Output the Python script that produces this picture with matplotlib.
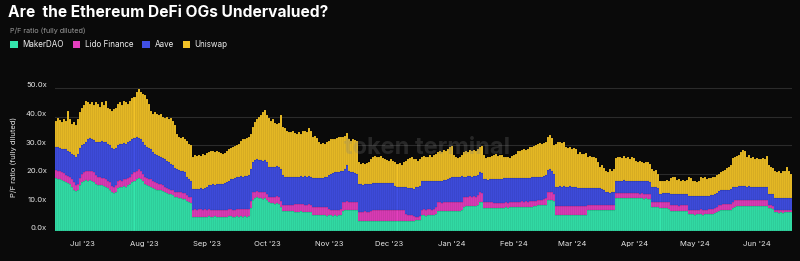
import pandas as pd
import matplotlib
matplotlib.use("Agg")
import matplotlib.pyplot as plt
import matplotlib.dates as mdates
from matplotlib.patches import Patch
from matplotlib.transforms import ScaledTranslation

plt.rcParams['font.family'] = ['Inter', 'DejaVu Sans']

# daily P/F ratios (fully diluted), 2023-06-18 .. 2024-06-18
start_date = "2023-06-18"

maker = [
    18.4, 18.2, 18.0, 17.8, 17.5, 17.0, 16.7, 16.5, 15.5, 14.5,
    14.0, 14.3, 16.0, 17.0, 17.5, 17.8, 17.5, 17.8, 17.6, 17.2,
    16.5, 16.0, 16.2, 16.0, 15.8, 15.5, 15.0, 14.5, 13.5, 13.2,
    13.8, 15.0, 15.5, 15.3, 15.8, 15.5, 16.0, 16.3, 17.0, 17.5,
    18.0, 18.5, 18.2, 17.5, 16.5, 16.0, 15.8, 15.5, 15.0, 14.8,
    14.5, 14.3, 14.2, 14.0, 13.5, 13.2, 13.0, 12.8, 12.5,
    12.0, 11.8, 11.5, 11.5, 11.3, 11.2, 10.5, 10.0, 9.8, 5.0,
    5.0, 4.9, 5.0, 5.0, 4.9, 5.0, 5.0, 5.1, 5.0, 5.0,
    5.1, 5.0, 5.0, 4.9, 5.0, 5.0, 5.0, 5.1, 5.1, 5.0,
    5.0, 5.1, 5.0, 5.1, 5.0, 5.1, 5.0, 5.1, 8.0, 11.0,
    11.5, 11.8, 11.5, 11.6, 11.3, 11.5, 11.0, 10.0, 9.8, 9.7,
    9.5, 9.8, 9.6, 8.5, 7.0, 7.0, 7.0, 6.9, 7.0, 7.0,
    6.8, 6.8,
    6.8, 6.9, 6.8, 6.8, 6.7, 6.8, 6.7, 5.6, 5.5, 5.5,
    5.5, 5.6, 5.5, 5.5, 5.4, 5.5, 5.5, 5.4, 5.5, 5.4,
    5.5, 5.5, 7.0, 7.3, 7.5, 7.3, 7.3, 7.2, 7.3, 7.2,
    3.5, 3.5, 3.4, 3.5, 3.5, 3.5, 3.5, 3.5, 3.5, 3.4,
    3.5, 3.5, 3.5, 3.5, 3.4, 3.5, 3.5, 3.5, 3.5, 3.4,
    3.5, 3.5, 3.5, 3.5, 3.5, 3.4, 3.5, 3.5, 3.8, 3.8,
    3.8,
    5.5, 5.5, 5.4, 5.5, 5.6, 5.5, 5.6, 6.0, 7.0, 7.0,
    6.9, 7.0, 7.0, 7.1, 7.0, 7.1, 7.0, 7.0, 7.1, 7.0,
    7.2, 8.5, 8.8, 8.7, 8.8, 8.8, 8.9, 8.8, 9.0, 10.3,
    10.0, 8.0, 8.0, 7.9, 8.0, 8.0, 8.0, 8.1, 8.0, 8.2,
    8.1, 8.2, 8.3, 8.2, 8.3, 8.3, 8.4, 8.4, 8.5, 8.3,
    8.4, 8.3, 8.4, 8.3, 8.4, 8.5, 8.6, 8.7, 9.0, 9.0,
    9.0, 9.1, 9.2, 10.8, 11.0, 10.8, 10.5, 5.6, 5.6, 5.5,
    5.6, 5.6, 5.6, 5.5, 5.6, 5.6, 5.5, 5.6, 5.6, 5.6,
    5.5, 5.6, 5.6, 7.3, 7.2, 7.3, 7.3, 7.4, 7.3, 7.3,
    7.2, 7.3, 7.3, 7.3, 7.2, 7.3, 7.3, 11.4, 11.5, 11.4,
    11.5, 11.6, 11.5, 11.5, 11.4, 11.5, 11.5, 11.4, 11.5, 11.4,
    11.5, 11.3, 11.4, 11.3, 11.2, 8.5, 8.5, 8.4, 8.5, 8.0,
    8.0,
    8.0, 8.0, 7.8, 7.0, 7.0, 7.0, 7.0, 6.9, 7.0, 7.0,
    6.9, 7.0, 5.8, 5.8, 5.8, 5.7, 5.8, 5.8, 5.8, 5.7,
    5.8, 5.8, 5.8, 5.9, 6.0, 6.2, 6.5, 7.0, 7.2, 7.3,
    7.3, 7.4, 7.3, 7.5, 8.0, 8.5, 8.6, 8.7, 8.8, 8.9,
    8.8, 8.8, 8.9, 8.8, 8.9, 8.8, 8.9, 8.9, 8.8, 8.9,
    8.8, 8.8, 8.0, 8.0, 7.8, 6.5, 6.5, 6.4, 6.5, 6.4,
    6.5, 6.6, 6.5, 6.5,
]

lido = [
    2.9, 2.8, 2.8, 2.7, 2.7, 2.5, 2.5, 2.5, 2.5, 2.5,
    2.2, 2.2, 2.5, 2.8, 3.0, 3.2, 3.3, 3.2, 3.2, 3.3,
    3.0, 2.8, 2.8, 2.5, 2.7, 2.5, 2.5, 2.5, 2.3, 2.3,
    2.2, 2.5, 2.3, 2.2, 2.2, 2.5, 2.5, 2.7, 3.0, 3.0,
    3.0, 3.0, 2.8, 2.5, 2.5, 2.5, 2.5, 2.5, 2.5, 2.2,
    2.3, 2.2, 2.1, 2.0, 2.0, 1.8, 1.8, 1.7, 1.8,
    1.8, 2.0, 2.0, 2.1, 2.1, 2.0, 2.0, 2.0, 2.0, 2.5,
    2.6, 2.6, 2.7, 2.6, 2.6, 2.6, 2.5, 2.5, 2.5, 2.4,
    2.4, 2.5, 2.4, 2.4, 2.4, 2.5, 2.5, 2.5, 2.5, 2.5,
    2.5, 2.5, 2.6, 2.6, 2.6, 2.6, 2.6, 2.7, 2.5, 2.5,
    2.3, 2.2, 2.3, 2.1, 2.2, 2.1, 2.0, 2.0, 2.2, 2.1,
    2.5, 2.4, 2.4, 2.0, 2.0, 2.0, 2.0, 2.2, 2.0, 2.2,
    2.5, 2.5,
    2.5, 2.5, 2.5, 2.4, 2.5, 2.5, 2.5, 2.9, 3.0, 2.9,
    3.0, 2.9, 2.9, 3.0, 2.9, 2.3, 2.0, 2.1, 1.9, 2.1,
    2.0, 2.1, 3.0, 3.0, 3.0, 3.0, 3.0, 3.0, 3.0, 3.0,
    3.3, 3.3, 3.4, 3.4, 3.3, 3.3, 3.5, 3.8, 3.8, 3.8,
    3.8, 3.9, 3.8, 3.8, 3.9, 3.9, 3.8, 3.8, 3.8, 3.8,
    3.8, 3.8, 3.7, 2.3, 2.0, 2.1, 2.0, 1.9, 1.2, 1.2,
    1.4,
    2.0, 2.1, 2.1, 2.1, 2.1, 2.0, 2.2, 2.5, 3.0, 3.0,
    2.9, 3.0, 3.1, 3.1, 3.0, 3.1, 3.0, 3.0, 3.0, 3.0,
    3.1, 3.3, 3.2, 3.2, 3.3, 3.2, 3.3, 3.2, 3.5, 3.2,
    3.3, 2.0, 2.0, 2.2, 2.0, 2.0, 1.8, 1.7, 1.7, 1.7,
    1.7, 1.6, 1.7, 1.7, 1.7, 1.8, 1.8, 1.8, 1.8, 2.0,
    2.0, 2.0, 2.0, 2.0, 2.0, 2.0, 1.9, 1.9, 2.0, 2.0,
    2.0, 2.0, 2.3, 2.7, 2.8, 2.7, 2.5, 3.2, 3.2, 3.2,
    3.2, 3.3, 3.2, 3.3, 3.2, 3.3, 3.3, 3.2, 3.2, 3.2,
    3.2, 3.2, 3.2, 1.7, 1.8, 1.8, 1.7, 1.8, 1.7, 1.7,
    1.8, 1.8, 1.7, 1.7, 1.8, 1.8, 1.7, 1.8, 1.8, 1.8,
    1.8, 1.8, 1.7, 1.8, 1.8, 1.8, 1.7, 1.8, 1.7, 1.7,
    1.7, 1.7, 1.7, 1.7, 1.8, 1.5, 1.5, 1.6, 1.7, 2.3,
    2.3,
    2.3, 2.2, 2.2, 2.0, 2.0, 2.1, 2.0, 2.0, 2.0, 2.0,
    2.1, 2.0, 1.7, 1.7, 1.7, 1.7, 1.7, 1.7, 1.8, 1.8,
    1.7, 1.7, 1.8, 1.7, 1.8, 1.8, 1.8, 2.0, 2.0, 2.0,
    2.0, 2.0, 2.0, 2.0, 2.3, 2.3, 2.2, 2.2, 2.2, 2.1,
    2.1, 2.0, 2.0, 2.0, 2.0, 2.0, 2.0, 1.9, 2.0, 2.0,
    2.0, 2.0, 1.0, 1.0, 1.1, 1.0, 0.8, 0.8, 0.8, 0.8,
    0.8, 0.8, 0.8, 0.7,
]

aave = [
    8.2, 8.3, 8.2, 8.3, 8.3, 9.0, 8.8, 8.5, 9.0, 9.5,
    9.8, 10.5, 10.5, 10.2, 10.0, 10.0, 11.2, 11.5, 11.5, 11.3,
    11.5, 12.4, 12.0, 13.0, 12.5, 13.2, 13.0, 13.0, 13.2, 13.0,
    13.0, 12.5, 12.7, 12.8, 12.8, 12.5, 12.5, 12.5, 12.0, 12.0,
    11.8, 11.0, 11.0, 11.0, 11.0, 11.0, 10.7, 10.5, 10.0, 10.0,
    9.7, 9.8, 9.7, 9.5, 9.5, 9.5, 9.2, 9.0, 8.7,
    8.2, 7.7, 7.7, 7.4, 7.6, 7.3, 6.5, 6.0, 5.7, 7.3,
    7.2, 7.2, 7.1, 7.3, 7.3, 7.4, 8.0, 8.4, 8.7, 8.9,
    8.7, 8.8, 8.9, 9.1, 9.1, 9.1, 9.5, 9.9, 10.4, 10.8,
    11.0, 11.2, 11.4, 11.5, 11.4, 11.6, 11.6, 11.7, 11.0, 10.5,
    11.0, 11.0, 11.0, 11.2, 11.0, 11.2, 11.0, 10.5, 10.5, 10.5,
    10.5, 10.6, 10.5, 11.0, 10.5, 10.0, 10.0, 9.9, 10.0, 9.8,
    9.7, 9.7,
    9.7, 9.8, 9.7, 9.9, 9.8, 9.9, 9.8, 10.0, 10.0, 10.0,
    10.0, 10.1, 10.1, 10.2, 10.5, 11.7, 12.5, 12.8, 13.1, 13.0,
    13.1, 13.2, 11.0, 11.2, 12.5, 10.7, 10.2, 10.3, 10.0, 9.8,
    9.5, 9.5, 9.4, 9.4, 9.6, 9.5, 9.5, 9.5, 9.4, 9.6,
    9.5, 9.5, 9.5, 9.5, 9.4, 9.4, 9.5, 9.4, 8.5, 8.3,
    8.2, 8.1, 8.3, 9.4, 9.5, 9.4, 9.4, 9.4, 10.5, 10.5,
    10.4,
    10.0, 9.9, 9.9, 9.9, 9.9, 10.0, 9.8, 9.1, 7.5, 7.5,
    7.8, 7.7, 7.7, 7.8, 8.5, 8.8, 9.0, 8.8, 8.9, 9.0,
    8.8, 7.2, 7.0, 7.2, 7.1, 7.0, 7.1, 7.2, 7.0, 7.0,
    7.0, 8.0, 8.0, 7.8, 8.0, 8.1, 8.2, 8.3, 8.3, 8.3,
    8.4, 8.7, 8.5, 8.5, 8.5, 8.5, 8.3, 8.4, 8.2, 8.2,
    8.2, 8.2, 8.2, 8.2, 8.2, 8.2, 8.3, 8.2, 8.0, 8.0,
    8.0, 8.1, 8.0, 7.8, 7.7, 7.5, 7.0, 6.7, 6.7, 6.9,
    6.7, 6.7, 6.7, 6.7, 6.8, 6.6, 6.6, 6.7, 6.2, 6.2,
    6.4, 6.2, 6.2, 6.0, 6.0, 6.0, 6.0, 5.9, 6.0, 6.0,
    5.8, 5.4, 4.5, 4.5, 4.4, 4.4, 4.6, 4.3, 4.3, 4.3,
    4.3, 4.3, 4.3, 4.3, 4.3, 4.2, 4.2, 4.3, 4.3, 4.3,
    4.3, 4.3, 4.3, 4.3, 4.2, 5.5, 5.5, 5.4, 4.8, 2.7,
    2.9,
    2.9, 3.1, 3.2, 4.0, 4.0, 4.0, 4.0, 4.1, 4.0, 3.9,
    4.0, 3.8, 4.8, 4.8, 4.7, 4.9, 4.8, 4.7, 4.7, 4.8,
    4.9, 4.8, 4.8, 4.9, 4.8, 4.8, 4.9, 5.0, 5.0, 5.0,
    5.0, 5.0, 5.2, 5.2, 4.9, 4.7, 4.7, 4.7, 4.8, 4.8,
    4.8, 4.7, 4.7, 4.7, 4.6, 4.6, 4.6, 4.7, 4.6, 4.6,
    4.6, 4.7, 4.0, 4.0, 3.9, 4.2, 4.2, 4.3, 4.2, 4.2,
    4.2, 4.2, 4.2, 4.2,
]

uniswap = [
    9.0, 10.2, 9.8, 9.2, 10.5, 10.0, 14.0, 11.5, 10.5, 11.5,
    11.0, 12.0, 12.5, 13.0, 13.5, 14.5, 13.0, 12.0, 12.7, 12.2,
    14.0, 13.3, 12.5, 13.5, 13.0, 14.3, 12.5, 12.5, 13.0, 14.0,
    14.0, 14.5, 14.5, 13.7, 14.7, 14.5, 13.5, 14.0, 14.5, 14.5,
    15.7, 17.3, 16.5, 17.0, 17.5, 16.5, 15.5, 13.5, 13.5, 14.5,
    14.5, 14.2, 15.0, 14.5, 14.5, 15.5, 15.0, 16.0, 15.5,
    15.0, 12.5, 11.8, 11.5, 12.0, 11.5, 12.5, 12.5, 12.5, 11.2,
    11.7, 11.5, 11.8, 11.4, 12.0, 11.5, 11.8, 11.5, 11.6, 11.7,
    11.4, 11.7, 11.2, 10.9, 10.5, 10.7, 10.8, 11.0, 11.0, 11.2,
    11.3, 11.2, 11.5, 12.3, 13.0, 13.0, 13.3, 13.5, 12.5, 12.5,
    13.2, 14.0, 15.2, 15.6, 17.0, 17.5, 16.5, 17.0, 16.0, 16.7,
    15.1, 14.5, 15.3, 19.0, 17.0, 17.0, 16.0, 15.7, 15.5, 15.8,
    15.4, 15.0,
    15.5, 14.8, 15.8, 15.9, 15.5, 16.7, 16.0, 14.5, 14.8, 14.1,
    12.5, 11.9, 12.3, 11.8, 12.2, 12.0, 12.0, 12.0, 11.5, 12.0,
    12.4, 12.0, 12.0, 11.7, 11.2, 11.0, 11.0, 11.5, 11.5, 11.5,
    7.7, 7.2, 7.6, 7.0, 7.3, 7.7, 8.5, 9.2, 9.5, 9.0,
    9.2, 9.4, 8.7, 8.2, 8.1, 7.7, 8.2, 7.9, 8.2, 8.0,
    8.3, 7.6, 8.5, 9.3, 10.0, 10.6, 10.9, 10.5, 9.5, 9.0,
    9.4,
    8.5, 8.8, 8.4, 8.5, 8.9, 8.5, 8.8, 9.2, 10.0, 10.5,
    9.9, 10.5, 10.2, 10.5, 11.0, 10.8, 7.5, 7.2, 6.5, 7.0,
    7.4, 8.5, 9.0, 8.5, 9.0, 9.0, 9.0, 8.8, 9.0, 9.0,
    9.5, 8.5, 7.5, 8.1, 7.8, 8.2, 8.5, 8.7, 8.3, 8.4,
    8.2, 7.5, 7.3, 7.6, 7.0, 7.6, 8.0, 8.4, 9.3, 9.5,
    9.7, 10.0, 9.6, 10.3, 10.7, 10.8, 11.0, 11.2, 11.5, 11.8,
    11.5, 11.6, 11.5, 11.7, 12.0, 11.5, 10.0, 15.0, 15.5, 15.6,
    15.3, 15.4, 14.0, 13.5, 13.7, 13.0, 13.6, 13.3, 12.0, 12.5,
    11.9, 11.8, 12.2, 11.0, 11.3, 10.7, 11.0, 10.4, 9.0, 7.5,
    8.2, 7.5, 7.5, 7.0, 8.1, 7.3, 7.9, 8.0, 8.4, 8.3,
    7.9, 8.5, 8.1, 8.2, 7.8, 8.2, 8.1, 7.0, 6.5, 6.9,
    6.5, 6.5, 6.8, 6.7, 6.3, 6.0, 5.5, 5.9, 5.0, 4.5,
    4.3,
    4.3, 4.5, 4.3, 5.5, 6.0, 5.7, 4.8, 5.0, 4.6, 4.9,
    4.5, 5.0, 6.5, 6.2, 5.1, 5.2, 4.7, 5.1, 6.5, 6.2,
    6.4, 6.0, 6.1, 6.1, 6.2, 6.2, 6.3, 6.0, 6.3, 6.7,
    7.0, 7.6, 8.0, 8.3, 10.3, 10.5, 10.7, 10.9, 11.7, 12.5,
    12.1, 10.5, 10.9, 10.0, 10.3, 9.9, 10.0, 9.5, 9.9, 10.1,
    9.8, 10.7, 10.0, 9.5, 9.2, 9.3, 9.0, 9.3, 8.8, 9.6,
    9.5, 10.9, 9.5, 8.6,
]

series = ["MakerDAO", "Lido Finance", "Aave", "Uniswap"]
colors = ["#34e6ad", "#e43fbe", "#4150e6", "#f2c227"]
bg = "#0a0a0a"

dates = pd.date_range(start_date, periods=len(maker), freq="D")

fig = plt.figure(figsize=(8, 2.61), dpi=100, facecolor=bg)
ax = fig.add_axes([0.069, 0.115, 0.921, 0.57])
ax.set_facecolor(bg)

# stacked daily bars, thin translucent edges give the faint stripes
bottom = [0.0] * len(maker)
for vals, c in zip([maker, lido, aave, uniswap], colors):
    ax.bar(dates, vals, bottom=bottom, width=1.0, color=c,
           edgecolor=(0, 0, 0, 0.22), linewidth=0.35, zorder=2)
    bottom = [b + v for b, v in zip(bottom, vals)]

ax.set_ylim(0, 52)
ax.set_xlim(dates[0] - pd.Timedelta(hours=12), dates[-1] + pd.Timedelta(hours=12))
ax.set_yticks([0, 10, 20, 30, 40, 50])
ax.set_yticklabels([f"{v:.1f}x" for v in [0, 10, 20, 30, 40, 50]])
ax.grid(axis="y", color="#2b2b2b", linewidth=0.8, zorder=0)
ax.xaxis.set_major_locator(mdates.MonthLocator())
ax.xaxis.set_major_formatter(mdates.DateFormatter("%b '%y"))
ax.tick_params(axis="both", length=0, colors="#e6e6e6", labelsize=5.5)
ax.tick_params(axis="x", pad=7)
ax.tick_params(axis="y", pad=6)
for lab in ax.get_yticklabels():
    lab.set_transform(lab.get_transform() + ScaledTranslation(0, 3 / 100, fig.dpi_scale_trans))
for s in ax.spines.values():
    s.set_visible(False)

ax.set_ylabel("P/F ratio (fully diluted)", color="#e6e6e6", fontsize=5.5, labelpad=6)

# watermark
ax.text(0.505, 0.56, "token terminal", transform=ax.transAxes, ha="center", va="center",
        fontsize=17, fontweight="bold", color="#808080", alpha=0.25, zorder=5)

fig.text(0.01, 0.954, "Are  the Ethereum DeFi OGs Undervalued?", color="white",
         fontsize=11.2, fontweight="bold", va="center", ha="left")
fig.text(0.012, 0.881, "P/F ratio (fully diluted)", color="#9a9a9a", fontsize=5.2,
         va="center", ha="left")

handles = [Patch(facecolor=c, edgecolor="none", label=s) for s, c in zip(series, colors)]
leg = fig.legend(handles=handles, loc="center left", bbox_to_anchor=(0.004, 0.828), ncol=4,
                 frameon=False, fontsize=5.8, handlelength=0.9, handleheight=0.9,
                 handletextpad=0.6, columnspacing=1.1, labelcolor="#f0f0f0")

fig.savefig("out.png", dpi=100, facecolor=bg)
